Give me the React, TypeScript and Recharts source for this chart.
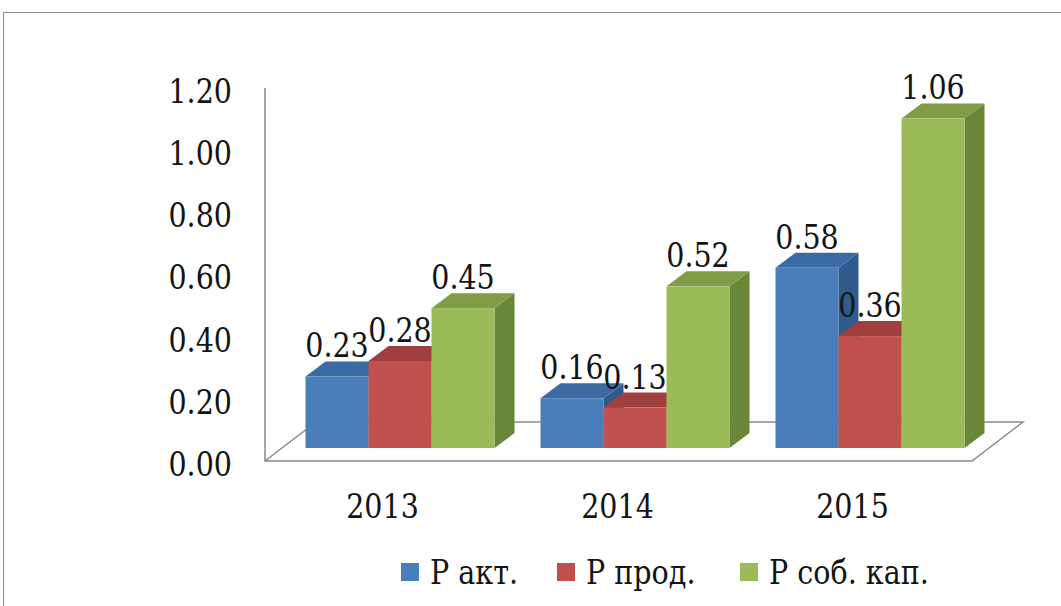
import React from 'react';
import { BarChart, Bar, XAxis, YAxis, LabelList, Legend, Customized } from 'recharts';

const years = ['2013', '2014', '2015'];
const pAkt = [0.23, 0.16, 0.58];
const pProd = [0.28, 0.13, 0.36];
const pSobKap = [0.45, 0.52, 1.06];
const yTicks = [0, 0.2, 0.4, 0.6, 0.8, 1.0, 1.2];
const seriesNames = ['Р акт.', 'Р прод.', 'Р соб. кап.'];

const data = years.map((y, i) => ({ year: y, a: pAkt[i], b: pProd[i], c: pSobKap[i] }));

const W = 1061;
const H = 606;
const PLOT_LEFT = 265;
const PLOT_RIGHT = 970;
const PLOT_TOP = 88;
const PLOT_BOTTOM = 461;
const Y_AXIS_W = 100;
const X_AXIS_H = 60;

// 3D geometry
const FLOOR_DX = 51;
const FLOOR_DY = 39;
const OX = 17;
const OY = 13;
const BDX = 20;
const BDY = 15;

const FONT = 'DejaVu Serif, Liberation Serif, Tinos, Noto Serif, Times, serif';
const FS = 34;
const SX = 0.84;
const TEXT = '#141414';
const LINE = '#8a8a8a';

const COLORS = [
  { front: '#4a7ebb', top: '#3c6aa2', side: '#2f5b8f' },
  { front: '#c0504d', top: '#a0403e', side: '#8c3633' },
  { front: '#9bbb59', top: '#7f9c46', side: '#6a8639' },
];

const SerifText = ({ x, y, anchor, children }: any) => (
  <g transform={`translate(${x},${y}) scale(${SX},1)`}>
    <text x={0} y={0} textAnchor={anchor} dominantBaseline="central" fontFamily={FONT} fontSize={FS} fill={TEXT}>
      {children}
    </text>
  </g>
);

const make3D = (c: { front: string; top: string; side: string }) => (props: any) => {
  const { x, y, width, height } = props;
  const fx = x + OX;
  const fy = y - OY;
  const w = width;
  const h = height;
  return (
    <g>
      <polygon
        points={`${fx + w},${fy} ${fx + w + BDX},${fy - BDY} ${fx + w + BDX},${fy + h - BDY} ${fx + w},${fy + h}`}
        fill={c.side}
      />
      <polygon
        points={`${fx},${fy} ${fx + BDX},${fy - BDY} ${fx + w + BDX},${fy - BDY} ${fx + w},${fy}`}
        fill={c.top}
      />
      <rect x={fx} y={fy} width={w} height={h} fill={c.front} />
    </g>
  );
};

const ValueLabel = (props: any) => {
  const { x, y, width, value } = props;
  return (
    <SerifText x={x + width / 2 + OX} y={y - OY - 31} anchor="middle">
      {Number(value).toFixed(2)}
    </SerifText>
  );
};

const YTick = (props: any) => {
  const { y, payload } = props;
  return (
    <SerifText x={PLOT_LEFT - 33} y={y + 3} anchor="end">
      {Number(payload.value).toFixed(2)}
    </SerifText>
  );
};

const XTick = (props: any) => {
  const { x, payload } = props;
  return (
    <SerifText x={x} y={PLOT_BOTTOM + 45} anchor="middle">
      {payload.value}
    </SerifText>
  );
};

const Floor = () => (
  <g>
    <polyline
      points={`${PLOT_LEFT},${PLOT_TOP} ${PLOT_LEFT},${PLOT_BOTTOM} ${PLOT_RIGHT + 2},${PLOT_BOTTOM} ${PLOT_RIGHT + 2 + FLOOR_DX},${PLOT_BOTTOM - FLOOR_DY} ${PLOT_LEFT + FLOOR_DX},${PLOT_BOTTOM - FLOOR_DY} ${PLOT_LEFT},${PLOT_BOTTOM}`}
      fill="none"
      stroke={LINE}
      strokeWidth={1.5}
    />
  </g>
);

const LEGEND_X = [0, 156, 339];

const LegendContent = () => (
  <div style={{ position: 'relative', height: 36, fontFamily: FONT, fontSize: FS, color: TEXT, whiteSpace: 'nowrap' }}>
    {seriesNames.map((n, i) => (
      <div key={n} style={{ position: 'absolute', left: LEGEND_X[i], top: 0, height: 36, display: 'flex', alignItems: 'center' }}>
        <span style={{ display: 'inline-block', width: 18, height: 18, background: COLORS[i].front, marginRight: 11 }} />
        <span style={{ lineHeight: '36px', display: 'inline-block', transform: `scaleX(${SX})`, transformOrigin: 'left center' }}>{n}</span>
      </div>
    ))}
  </div>
);

export default function App() {
  return (
    <div style={{ position: 'absolute', left: 0, top: 0, width: W, height: H, overflow: 'hidden', background: '#fff' }}>
      <div
        style={{
          position: 'absolute',
          left: 3,
          top: 12,
          width: 1200,
          height: 800,
          border: `1.5px solid ${LINE}`,
        }}
      />
      <div style={{ position: 'absolute', left: 0, top: 0 }}>
        <BarChart
          width={W}
          height={H}
          data={data}
          margin={{ top: PLOT_TOP, right: W - PLOT_RIGHT, left: PLOT_LEFT - Y_AXIS_W, bottom: H - PLOT_BOTTOM - X_AXIS_H }}
          barCategoryGap="10%"
          barGap={0}
        >
          <Customized component={<Floor />} />
          <XAxis dataKey="year" height={X_AXIS_H} axisLine={false} tickLine={false} tick={<XTick />} />
          <YAxis
            width={Y_AXIS_W}
            domain={[0, 1.2]}
            ticks={yTicks}
            axisLine={false}
            tickLine={false}
            tick={<YTick />}
            interval={0}
          />
          <Legend
            layout="horizontal"
            verticalAlign="middle"
            align="center"
            content={<LegendContent />}
            wrapperStyle={{ left: 401, top: 554, width: 640 }}
          />
          <Bar dataKey="a" name={seriesNames[0]} fill={COLORS[0].front} shape={make3D(COLORS[0])} isAnimationActive={false}>
            <LabelList dataKey="a" content={<ValueLabel />} />
          </Bar>
          <Bar dataKey="b" name={seriesNames[1]} fill={COLORS[1].front} shape={make3D(COLORS[1])} isAnimationActive={false}>
            <LabelList dataKey="b" content={<ValueLabel />} />
          </Bar>
          <Bar dataKey="c" name={seriesNames[2]} fill={COLORS[2].front} shape={make3D(COLORS[2])} isAnimationActive={false}>
            <LabelList dataKey="c" content={<ValueLabel />} />
          </Bar>
        </BarChart>
      </div>
    </div>
  );
}
